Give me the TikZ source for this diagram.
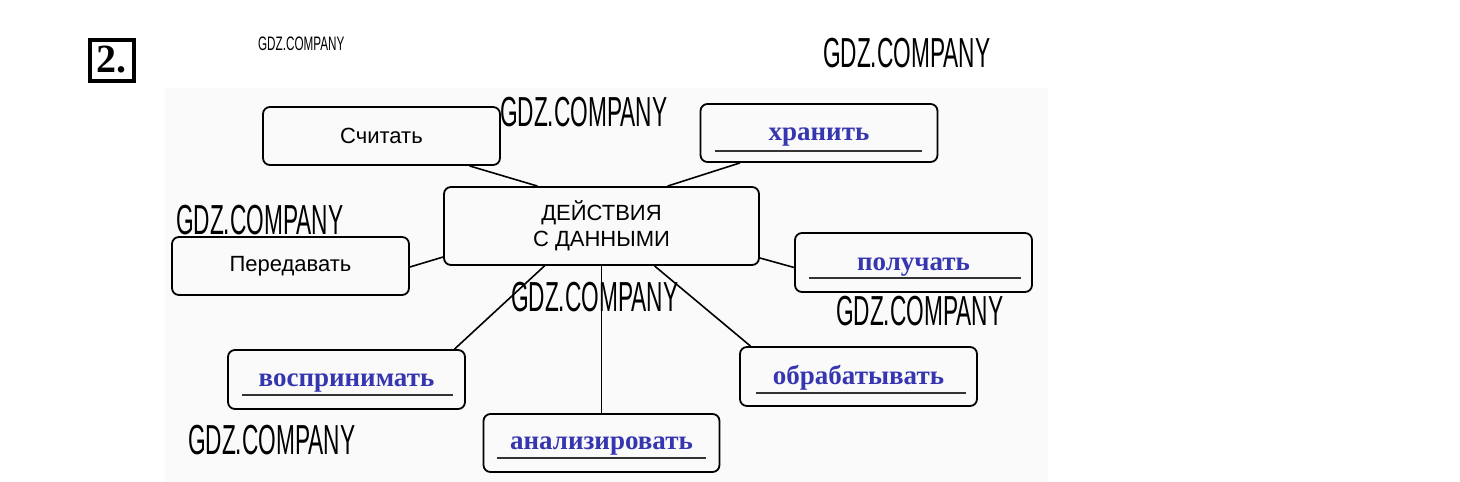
\documentclass[tikz,border=0pt]{standalone}
\usepackage{fontspec}
\setmainfont{Liberation Sans}
\newfontfamily\serifb{Liberation Serif}
\definecolor{answer}{HTML}{3636B0}
\definecolor{paper}{HTML}{FAFAFA}
\tikzset{
  box/.style={draw=black, line width=1.8pt, rounded corners=7pt, minimum width=237pt, minimum height=58pt, inner sep=0pt},
  given/.style={font=\fontsize{22}{24}\selectfont},
  ans/.style={text=answer, font=\serifb\bfseries\fontsize{27}{28}\selectfont},
  uline/.style={line width=1.2pt, draw=black!80},
  link/.style={line width=1.6pt},
  wm/.style={font=\fontsize{42}{42}\selectfont, xscale=0.54, inner sep=0pt},
  wmsmall/.style={font=\fontsize{19.5}{20}\selectfont, xscale=0.6, inner sep=0pt}
}
\begin{document}
\begin{tikzpicture}[x=1pt,y=-1pt]
\useasboundingbox (0,0) rectangle (1460,482);
\fill[paper] (165,88) rectangle (1048,482);
% task number
\node[draw, line width=4pt, minimum width=44pt, minimum height=41pt, inner sep=0pt,
      font=\serifb\bfseries\fontsize{40}{40}\selectfont] (num) at (111.5,60) {2.};
% nodes
\node[box, minimum width=315pt, minimum height=78pt, align=center, font=\fontsize{22}{26}\selectfont] (c) at (601.5,226) {ДЕЙСТВИЯ\\С ДАННЫМИ};
\node[box, given] (s) at (381.5,136) {Считать};
\node[box, given] (pd) at (290.5,266) {Передавать};
\node[box] (h) at (819,133) {};
\node[box, minimum height=59pt] (p) at (913.5,262.5) {};
\node[box, minimum height=59pt] (v) at (346.5,379.5) {};
\node[box, minimum width=236pt] (a) at (601.5,443) {};
\node[box, minimum height=59pt] (o) at (858.5,376.5) {};
% answer words
\node[ans, anchor=base] (ht) at ([yshift=22pt]h.south) {хранить};
\node[ans, anchor=base] (pt) at ([yshift=22pt]p.south) {получать};
\node[ans, anchor=base] (vt) at ([yshift=23pt]v.south) {воспринимать};
\node[ans, anchor=base] (at) at ([yshift=23pt]a.south) {анализировать};
\node[ans, anchor=base] (ot) at ([yshift=22pt]o.south) {обрабатывать};
% underlines
\draw[uline] ([shift={(15pt,12pt)}]h.south west) -- ([shift={(-16pt,12pt)}]h.south east);
\draw[uline] ([shift={(15pt,15pt)}]p.south west) -- ([shift={(-12pt,15pt)}]p.south east);
\draw[uline] ([shift={(15pt,15pt)}]v.south west) -- ([shift={(-13pt,15pt)}]v.south east);
\draw[uline] ([shift={(14pt,15pt)}]a.south west) -- ([shift={(-14pt,15pt)}]a.south east);
\draw[uline] ([shift={(17pt,14pt)}]o.south west) -- ([shift={(-12pt,14pt)}]o.south east);
% connectors
\draw[link] ([xshift=88pt]s.south) -- ([xshift=-64pt]c.north);
\draw[link] ([xshift=-79pt]h.south) -- ([xshift=66pt]c.north);
\draw[link] ([yshift=-1pt]pd.east) -- ([yshift=-31pt]c.west);
\draw[link] ([yshift=-32pt]c.east) -- ([yshift=-5pt]p.west);
\draw[link] ([xshift=-57pt]c.south) -- ([xshift=108pt]v.north);
\draw[link] (c.south) -- (a.north);
\draw[link] ([xshift=53pt]c.south) -- ([xshift=-108pt]o.north);
% watermarks
\node[wmsmall, anchor=north west] (w0) at (258,37) {GDZ.COMPANY};
\node[wm, anchor=north west] (w1) at (823,38) {GDZ.COMPANY};
\node[wm, anchor=north west] (w2) at (500,97) {GDZ.COMPANY};
\node[wm, anchor=north west] (w3) at (176,205) {GDZ.COMPANY};
\node[wm, anchor=north west] (w4) at (511,282) {GDZ.COMPANY};
\node[wm, anchor=north west] (w5) at (836,296) {GDZ.COMPANY};
\node[wm, anchor=north west] (w6) at (188,425) {GDZ.COMPANY};
\end{tikzpicture}
\end{document}
